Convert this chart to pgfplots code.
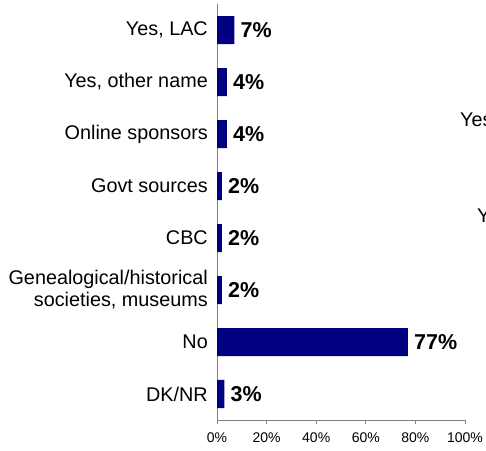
\documentclass[border=0pt]{standalone}
\usepackage{pgfplots}
\pgfplotsset{compat=1.18}
\usepackage{fontspec}
\setmainfont{Liberation Sans}
\definecolor{barnavy}{HTML}{000080}
\definecolor{axgray}{HTML}{808080}
\begin{document}
\begin{tikzpicture}
\useasboundingbox (0,0) rectangle (486bp,451bp);
\begin{axis}[
  at={(217bp,31bp)}, anchor=south west,
  scale only axis, width=248bp, height=416bp,
  xmin=0, xmax=100, ymin=-0.5, ymax=7.5,
  axis x line=bottom, axis y line=left,
  axis line style={-, axgray, line width=1bp},
  xbar, bar width=28bp, bar shift=0pt,
  xtick={0,20,40,60,80,100},
  xticklabels={0\%,20\%,40\%,60\%,80\%,100\%},
  xtick align=outside, major tick length=4bp,
  x tick style={axgray, line width=0.8bp},
  xticklabel style={font=\fontsize{14bp}{16bp}\selectfont, inner sep=0pt, yshift=-9bp},
  ytick={0,1,2,3,4,5,6,7},
  yticklabels={DK/NR,No,{Genealogical/historical\\societies, museums},CBC,Govt sources,Online sponsors,{Yes, other name},{Yes, LAC}},
  y tick style={draw=none},
  yticklabel style={font=\fontsize{19.8bp}{22bp}\selectfont, align=right, inner sep=0pt, xshift=-5bp},
  /pgf/number format/assume math mode=true,
  nodes near coords={\pgfmathprintnumber{\pgfplotspointmeta}\%},
  nodes near coords style={font=\bfseries\fontsize{21.5bp}{24bp}\selectfont, anchor=west, inner sep=0pt, xshift=6bp, black},
  point meta=x,
  clip=false,
]
\addplot[fill=barnavy, draw=none] coordinates {
  (3,0) (77,1) (2,2) (2,3) (2,4) (4,5) (4,6) (7,7)
};
\end{axis}
\node[anchor=base west, inner sep=0pt, font=\fontsize{19.8bp}{22bp}\selectfont] at (460bp,324bp) {Yes};
\node[anchor=base west, inner sep=0pt, font=\fontsize{19.8bp}{22bp}\selectfont] at (477bp,228bp) {Ye};
\end{tikzpicture}
\end{document}
